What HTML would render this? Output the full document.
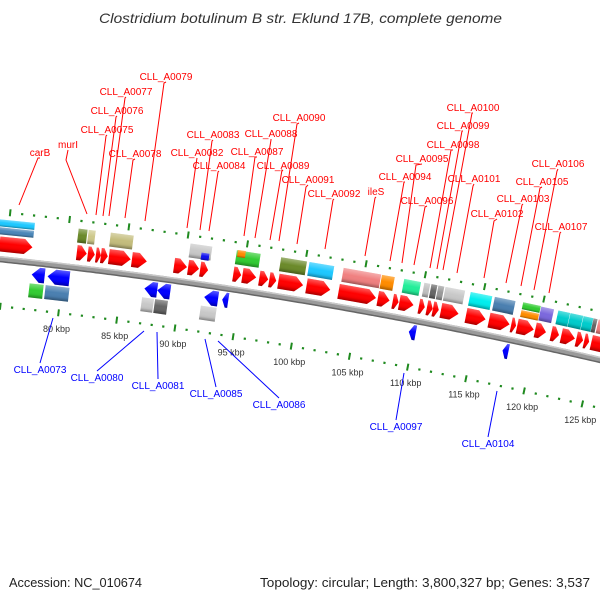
<!DOCTYPE html>
<html><head><meta charset="utf-8">
<style>
html,body{margin:0;padding:0;background:#fff;}
svg{display:block;font-family:"Liberation Sans","DejaVu Sans",sans-serif;}
</style></head>
<body>
<svg id="chart" width="600" height="600" viewBox="0 0 600 600" xmlns="http://www.w3.org/2000/svg">
<defs>
<linearGradient id="shade" x1="0" y1="0" x2="0" y2="1">
<stop offset="0" stop-color="#fff" stop-opacity="0.35"/>
<stop offset="0.45" stop-color="#fff" stop-opacity="0"/>
<stop offset="0.75" stop-color="#000" stop-opacity="0.05"/>
<stop offset="1" stop-color="#000" stop-opacity="0.35"/>
</linearGradient>
</defs>
<text x="99" y="23" textLength="403" lengthAdjust="spacingAndGlyphs" font-size="14" font-style="italic" fill="#333">Clostridium botulinum B str. Eklund 17B, complete genome</text>
<text x="9" y="587" textLength="133" lengthAdjust="spacingAndGlyphs" font-size="13" fill="#222">Accession: NC_010674</text>
<text x="260" y="587" textLength="330" lengthAdjust="spacingAndGlyphs" font-size="13" fill="#222">Topology: circular; Length: 3,800,327 bp; Genes: 3,537</text>
<g id="ticks"></g>
<g id="backbone"></g>
<g id="features"></g>
<g id="labels"></g>
</svg>
<script>
// Feature data (kbp)
const fwdArrowStart=[74.38,80.93,81.87,82.55,82.98,83.66,85.61,89.19,90.38,91.40,94.21,94.98,96.42,97.27,98.04,100.42,103.15,106.47,107.74,108.30,109.96,110.64,111.15,111.83,113.96,115.91,117.79,118.30,119.83,121.19,122.04,123.32,123.99,124.59];
const fwdArrowEnd=[77.19,81.78,82.47,82.98,83.57,85.53,86.89,90.30,91.32,92.08,94.89,96.17,97.19,97.87,100.17,102.47,106.38,107.49,108.25,109.53,110.47,111.15,111.66,113.36,115.66,117.70,118.21,119.74,120.77,121.87,123.23,123.91,124.42,126.30];
const fwdBoxStart=[74.12,74.12,80.85,81.70,83.57,90.30,91.32,94.21,94.30,97.95,100.34,103.23,106.47,108.34,110.04,110.64,111.23,111.83,113.96,116.00,118.38,118.38,119.91,121.36,122.38,123.49,124.34,124.77];
const fwdBoxEnd=[77.19,77.19,81.61,82.30,85.53,92.17,92.00,96.25,94.98,100.17,102.47,106.47,107.57,109.79,110.55,111.15,111.74,113.53,115.83,117.79,119.91,119.91,121.02,122.38,123.49,124.34,124.68,126.90];
const fwdBoxRow=[1,2,0,0,0,0,2,0,1,0,0,0,0,0,0,0,0,0,0,0,1,2,0,0,0,0,0,0];
const fwdBoxColor=["#1ec8ff","#4a86b8","#6b8a2a","#cdc88a","#c4bd7d","#c8c8c8","#1010ee","#33cc33","#ff8800","#6b8a2a","#1ec8ff","#f08080","#ff8c00","#22ee99","#c0c0c0","#666666","#999999","#c8c8c8","#00eeee","#4a7fb0","#33cc33","#ff8c00","#7b68dd","#00cccc","#00cccc","#00cccc","#666666","#f08080"];
const revArrowStart=[77.36,78.72,86.98,88.08,92.08,93.61,109.53,117.53];
const revArrowEnd=[78.47,80.59,88.08,89.19,93.27,94.13,110.13,118.04];
const revBoxStart=[77.27,78.64,86.89,88.00,91.91];
const revBoxEnd=[78.47,80.68,87.91,89.10,93.27];
const revBoxColor=["#33cc33","#4a7fb0","#c8c8c8","#666666","#c8c8c8"];
const tickFrom=74, tickTo=127;
const majorLabels=["80 kbp","85 kbp","90 kbp","95 kbp","100 kbp","105 kbp","110 kbp","115 kbp","120 kbp","125 kbp"];
const majorKbp=[80,85,90,95,100,105,110,115,120,125];
// Labels: name, text centre, leader start, leader end
const fwdLabelNames=["carB","murI","CLL_A0075","CLL_A0076","CLL_A0077","CLL_A0079","CLL_A0078","CLL_A0082","CLL_A0083","CLL_A0084","CLL_A0087","CLL_A0088","CLL_A0090","CLL_A0089","CLL_A0091","CLL_A0092","ileS","CLL_A0094","CLL_A0095","CLL_A0096","CLL_A0098","CLL_A0099","CLL_A0100","CLL_A0101","CLL_A0102","CLL_A0103","CLL_A0105","CLL_A0106","CLL_A0107"];
const fwdTextX=[40,68,107,117,126,166,135,197,213,219,257,271,299,283,308,334,376,405,422,427,453,463,473,474,497,523,542,558,561];
const fwdTextY=[152,144,129,110,91,76,153,152,134,165,151,133,117,165,179,193,191,176,158,200,144,125,107,178,213,198,181,163,226];
const fwdLabelX=[38,66,106,116,125,164,133,195,212,218,255,271,297,282,306,333,375,404,416,425,451,462,472,473,494,522,540,557,560];
const fwdLabelY=[158,160,136,117,98,83,160,171,141,172,157,140,124,170,187,200,198,182,165,207,150,131,113,186,221,205,188,171,233];
const fwdLineX=[19,87,96,103,109,145,125,187,200,209,244,255,279,270,297,325,365,390,402,414,430,437,443,457,484,506,521,534,549];
const fwdLineY=[205,214,215,216,216,221,218,228,230,231,236,238,241,240,244,249,256,261,263,265,268,269,270,273,278,283,286,290,293];
const revLabelNames=["CLL_A0073","CLL_A0080","CLL_A0081","CLL_A0085","CLL_A0086","CLL_A0097","CLL_A0104"];
const revLabelX=[40,97,158,216,279,396,488];
const revLabelY=[363,371,379,387,398,420,437];
const revLineX=[53,144,157,205,218,404,497];
const revLineY=[318,331,332,339,341,373,391];

const NS="http://www.w3.org/2000/svg";
const PX=11.75;
function X(k){return (k-74.55)*PX;}
function yb(x){return 259+0.105*x+0.000105*x*x;}
function slope(x){return 0.105+0.00021*x;}
function pt(k,d){const xb=X(k),s=slope(xb),N=Math.sqrt(1+s*s);return {x:xb-d*s/N,y:yb(xb)+d/N,a:Math.atan(s)*180/Math.PI};}
function mk(tag,attrs,parent){const e=document.createElementNS(NS,tag);for(const k in attrs)e.setAttribute(k,attrs[k]);parent.appendChild(e);return e;}

// backbone
const bb=document.getElementById('backbone');
function curve(d,k0,k1){let p=[];for(let k=k0;k<=k1;k+=0.25){const q=pt(k,d);p.push(q.x.toFixed(1)+','+q.y.toFixed(1));}return p.join(' ');}
const bl=mk('polyline',{points:curve(0,73,128),fill:'none',stroke:'#9a9a9a','stroke-width':6},bb);


const bt=mk('polyline',{points:curve(-2.3,73,128),fill:'none',stroke:'#c8c8c8','stroke-width':1.5},bb);


const bd=mk('polyline',{points:curve(2.6,73,128),fill:'none',stroke:'#666','stroke-width':1.5},bb);



// ticks
const tg=document.getElementById('ticks');
[-47,47].forEach(d=>{
  for(let k=tickFrom;k<=tickTo;k++){
    const p=pt(k,d);
    const major=(k%5===0);
    const r=mk('rect',{x:-1,y:major?-3.5:-1,width:major?2:2.2,height:major?7:2.2,fill:'#1f8a1f',transform:`translate(${p.x.toFixed(1)},${p.y.toFixed(1)}) rotate(${p.a.toFixed(1)})`},tg);
    
    
  }
});
majorKbp.forEach((k,i)=>{
  const p=pt(k,47);
  const t=mk('text',{x:(p.x-2).toFixed(1),y:(p.y+19).toFixed(1),'font-size':9,'text-anchor':'middle',fill:'#333'},tg);
  t.textContent=majorLabels[i];
  
  
});

// features
const fg=document.getElementById('features');
function feature(k0,k1,d,h,color,shape,name){
  const p=pt(k0,d);const L=(k1-k0)*PX;
  const g=mk('g',{transform:`translate(${p.x.toFixed(1)},${p.y.toFixed(1)}) rotate(${p.a.toFixed(1)})`},fg);
  
  
  let pts;const H=h/2;
  if(shape==='box'){pts=`0,${-H} ${L},${-H} ${L},${H} 0,${H}`;}
  else{const hd=Math.min(8,L*0.6);
    if(shape==='fwd')pts=`0,${-H} ${L-hd},${-H} ${L},0 ${L-hd},${H} 0,${H}`;
    else pts=`${L},${-H} ${hd},${-H} 0,0 ${hd},${H} ${L},${H}`;}
  mk('polygon',{points:pts,fill:color},g);
  mk('polygon',{points:pts,fill:'url(#shade)'},g);
}
fwdArrowStart.forEach((s,i)=>feature(s,fwdArrowEnd[i],-15,15,'#ff0000','fwd','forward-gene-arrow'));
fwdBoxStart.forEach((s,i)=>{
  const row=fwdBoxRow[i];const d=row===0?-32:(row===1?-36:-28);const h=row===0?14:7;
  feature(s,fwdBoxEnd[i],d,h,fwdBoxColor[i],'box','forward-feature-box');
});
revArrowStart.forEach((s,i)=>feature(s,revArrowEnd[i],12,15,'#0000ff','rev','reverse-gene-arrow'));
revBoxStart.forEach((s,i)=>feature(s,revBoxEnd[i],28,14,revBoxColor[i],'box','reverse-feature-box'));

// labels
const lg=document.getElementById('labels');
fwdLabelNames.forEach((n,i)=>{
  const l=mk('polyline',{points:`${fwdTextX[i]},${fwdTextY[i]+6} ${fwdLabelX[i]},${fwdLabelY[i]} ${fwdLineX[i]},${fwdLineY[i]}`,fill:'none',stroke:'#ff0000','stroke-width':1},lg);
  
  
  const t=mk('text',{x:fwdTextX[i],y:fwdTextY[i]+4,'font-size':10,'text-anchor':'middle',fill:'#ff0000'},lg);
  t.textContent=n;
  
  
});
revLabelNames.forEach((n,i)=>{
  const l=mk('line',{x1:revLabelX[i],y1:revLabelY[i],x2:revLineX[i],y2:revLineY[i],stroke:'#0000ff','stroke-width':1},lg);
  
  
  const t=mk('text',{x:revLabelX[i],y:revLabelY[i]+10,'font-size':10,'text-anchor':'middle',fill:'#0000ff'},lg);
  t.textContent=n;
  
  
});
</script>
</body></html>
